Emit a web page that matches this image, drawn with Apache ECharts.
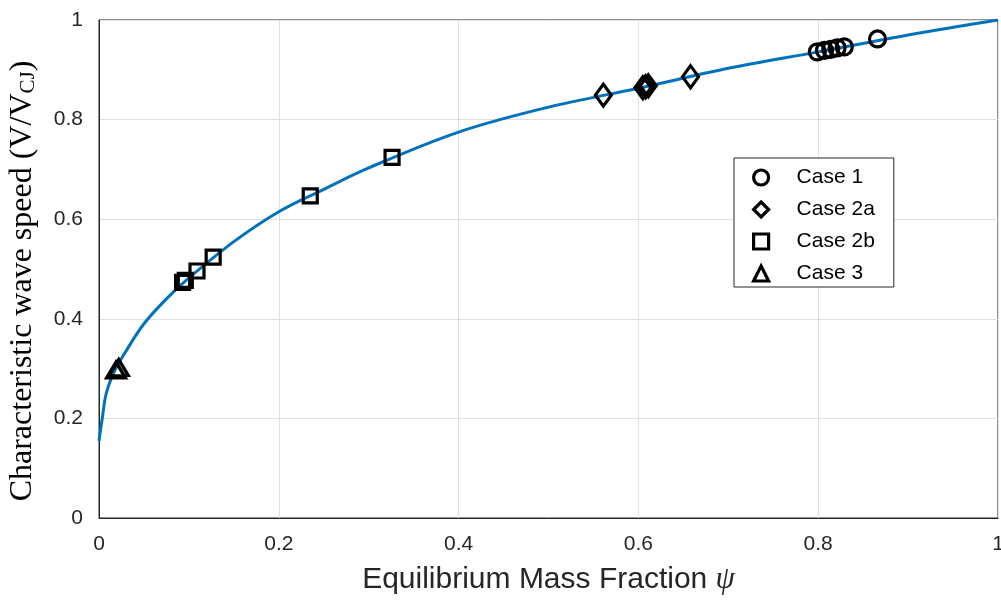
<!DOCTYPE html>
<html>
<head>
<meta charset="utf-8">
<script src="https://cdn.jsdelivr.net/npm/echarts@6/dist/echarts.min.js"></script>
<style>
  html, body { margin: 0; padding: 0; background: #fff; }
  #chart { width: 1001px; height: 600px; }
</style>
</head>
<body>
<div id="chart"></div>
<script>
// Characteristic wave speed curve (psi, V/V_CJ)
const curvePsi = [0, 0.004, 0.008, 0.016, 0.03, 0.05, 0.075, 0.1, 0.15, 0.2, 0.25, 0.3, 0.4, 0.5, 0.6, 0.7, 0.8, 0.9, 1];
const curveV   = [0.155, 0.205, 0.25, 0.29, 0.335, 0.39, 0.44, 0.482, 0.555, 0.615, 0.66, 0.703, 0.775, 0.825, 0.863, 0.903, 0.936, 0.97, 1.0];

// Simulation cases
const case1Psi  = [0.799, 0.807, 0.814, 0.821, 0.829, 0.866];
const case1V    = [0.936, 0.939, 0.941, 0.944, 0.946, 0.962];
const case2aPsi = [0.561, 0.605, 0.608, 0.611, 0.658];
const case2aV   = [0.849, 0.864, 0.866, 0.868, 0.886];
const case2bPsi = [0.093, 0.096, 0.109, 0.127, 0.235, 0.326];
const case2bV   = [0.473, 0.477, 0.496, 0.524, 0.647, 0.724];
const case3Psi  = [0.019, 0.022];
const case3V    = [0.297, 0.302];

const xTicks = [0, 0.2, 0.4, 0.6, 0.8, 1];
const yTicks = [0, 0.2, 0.4, 0.6, 0.8, 1];

const zip = (a, b) => a.map((v, i) => [v, b[i]]);

const hollow = {
  color: 'rgba(0,0,0,0)',
  borderColor: '#000',
  borderWidth: 3.2,
  opacity: 1
};

const chart = echarts.init(document.getElementById('chart'));
chart.setOption({
  animation: false,
  backgroundColor: '#fff',
  grid: {
    left: 99, right: 3, top: 20, bottom: 82,
    outerBoundsMode: 'none',
    containLabel: false,
    show: true, borderColor: '#262626', borderWidth: 1
  },
  xAxis: {
    type: 'value', min: 0, max: 1, interval: 0.2,
    name: '{a|Equilibrium Mass Fraction }{p|ψ}',
    nameLocation: 'middle', nameGap: 46,
    nameTextStyle: {
      rich: {
        a: { fontFamily: 'Liberation Sans', fontSize: 30, color: '#262626' },
        p: { fontFamily: 'Liberation Serif', fontStyle: 'italic', fontSize: 31, color: '#262626' }
      }
    },
    axisLine: { show: true, lineStyle: { color: '#262626', width: 1 } },
    axisTick: { show: false },
    axisLabel: {
      fontFamily: 'Liberation Sans', fontSize: 21, color: '#262626', margin: 16,
      formatter: v => (xTicks.includes(+v.toFixed(1)) ? String(+v.toFixed(1)) : '')
    },
    splitLine: { show: true, lineStyle: { color: '#dfdfdf', width: 1 } }
  },
  yAxis: {
    type: 'value', min: 0, max: 1, interval: 0.2,
    name: '{a|Characteristic wave speed (V/V}{s|CJ}{a|)}',
    nameLocation: 'middle', nameGap: 60,
    nameTextStyle: {
      padding: [0, 24, 0, 0],
      rich: {
        a: { fontFamily: 'Liberation Serif', fontSize: 32, color: '#000', lineHeight: 34, verticalAlign: 'bottom' },
        s: { fontFamily: 'Liberation Serif', fontSize: 21, color: '#000', lineHeight: 19, verticalAlign: 'bottom' }
      }
    },
    axisLine: { show: true, lineStyle: { color: '#262626', width: 1 } },
    axisTick: { show: false },
    axisLabel: {
      fontFamily: 'Liberation Sans', fontSize: 21, color: '#262626', margin: 16,
      formatter: v => (yTicks.includes(+v.toFixed(1)) ? String(+v.toFixed(1)) : '')
    },
    splitLine: { show: true, lineStyle: { color: '#dfdfdf', width: 1 } }
  },
  legend: {
    data: ['Case 1', 'Case 2a', 'Case 2b', 'Case 3'],
    orient: 'vertical',
    left: 734, top: 158,
    padding: [9, 19, 3, 18],
    itemGap: 11,
    itemWidth: 15, itemHeight: 15,
    backgroundColor: '#fff',
    borderColor: '#262626', borderWidth: 1, borderRadius: 0,
    itemStyle: { color: 'rgba(0,0,0,0)', borderColor: '#000', borderWidth: 3.2, opacity: 1 },
    textStyle: { fontFamily: 'Liberation Sans', fontSize: 21, color: '#000', padding: [0, 0, 0, 23] }
  },
  series: [
    {
      name: 'curve', type: 'line', smooth: 0.35, showSymbol: false,
      data: zip(curvePsi, curveV),
      lineStyle: { color: '#0072BD', width: 3 }, z: 1
    },
    {
      name: 'Case 1', type: 'scatter', symbol: 'circle', symbolSize: 16,
      data: zip(case1Psi, case1V), itemStyle: hollow, z: 3
    },
    {
      name: 'Case 2a', type: 'scatter', symbol: 'diamond', symbolSize: [16, 22],
      data: zip(case2aPsi, case2aV), itemStyle: hollow, z: 3
    },
    {
      name: 'Case 2b', type: 'scatter', symbol: 'rect', symbolSize: 14,
      data: zip(case2bPsi, case2bV), itemStyle: hollow, z: 3
    },
    {
      name: 'Case 3', type: 'scatter', symbol: 'triangle', symbolSize: [19, 16],
      data: zip(case3Psi, case3V), itemStyle: hollow, z: 3
    }
  ]
});
</script>
</body>
</html>
